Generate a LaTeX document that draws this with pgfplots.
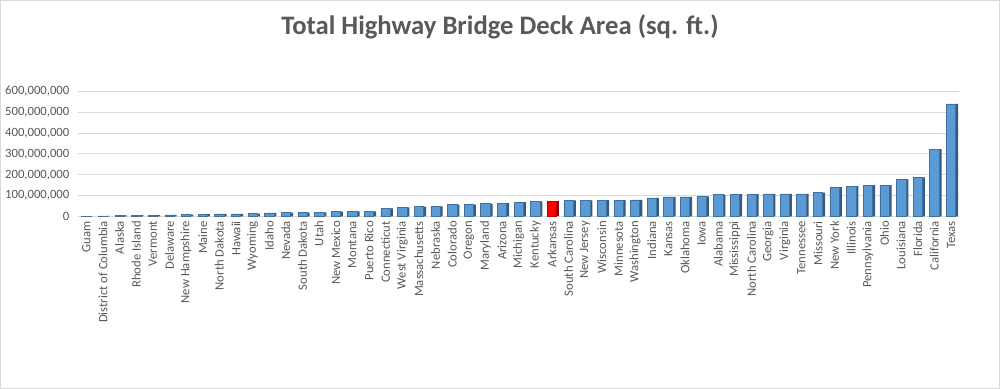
\documentclass[border=0pt]{standalone}
\usepackage{pgfplots}
\pgfplotsset{compat=1.18}
\usepackage{pgfplotstable}
\usepackage{fontspec}
\setmainfont{Carlito}
\definecolor{txtgray}{RGB}{89,89,89}
\definecolor{gridgray}{RGB}{217,217,217}
\definecolor{barblue}{RGB}{91,155,213}
\definecolor{baredge}{RGB}{65,113,156}
\definecolor{barside}{RGB}{52,92,130}
\definecolor{barred}{RGB}{255,0,0}
\definecolor{rededge}{RGB}{192,0,0}
\definecolor{redside}{RGB}{150,0,0}
\pgfplotstableread{
x y
0 1000000
1 3000000
2 5000000
3 6000000
4 7000000
5 8000000
6 9000000
7 11000000
8 12000000
9 12000000
10 14000000
11 17000000
12 18000000
13 19000000
14 20000000
15 23000000
16 24000000
17 25000000
18 39000000
19 44000000
20 47000000
21 49000000
22 57000000
23 57000000
24 61000000
25 64000000
26 69000000
27 72000000
29 77000000
30 77000000
31 78000000
32 78000000
33 80000000
34 89000000
35 94000000
36 94000000
37 96000000
38 105000000
39 107000000
40 107000000
41 108000000
42 108000000
43 108000000
44 115000000
45 141000000
46 146000000
47 151000000
48 151000000
49 179000000
50 188000000
51 323000000
52 540000000
}\bluedata
\pgfplotstableread{
x y
28 74000000
}\reddata
\begin{document}
\begin{tikzpicture}
\fill[white] (0,0) rectangle (750pt,291.75pt);
\draw[gridgray, line width=0.75pt] (0.4pt,0.4pt) rectangle (749.6pt,291.35pt);
\node[txtgray, font=\fontsize{20pt}{22pt}\selectfont\bfseries, anchor=base] at (375pt,266pt) {Total Highway Bridge Deck Area (sq. ft.)};
\begin{axis}[
  at={(58.5pt,129.4pt)}, anchor=south west,
  scale only axis, width=661pt, height=93.75pt,
  ybar, bar width=7pt,
  xmin=-0.5, xmax=52.5, ymin=0, ymax=600000000,
  ytick={0,100000000,200000000,300000000,400000000,500000000,600000000},
  scaled y ticks=false,
  /pgf/number format/fixed,
  /pgf/number format/1000 sep={,},
  /pgf/number format/assume math mode=true,
  yticklabel style={font=\fontsize{9.5pt}{10pt}\selectfont, text=txtgray, xshift=-3pt},
  xtick={0,...,52},
  xticklabels={Guam, District of Columbia, Alaska, Rhode Island, Vermont, Delaware, New Hampshire, Maine, North Dakota, Hawaii, Wyoming, Idaho, Nevada, South Dakota, Utah, New Mexico, Montana, Puerto Rico, Connecticut, West Virginia, Massachusetts, Nebraska, Colorado, Oregon, Maryland, Arizona, Michigan, Kentucky, Arkansas, South Carolina, New Jersey, Wisconsin, Minnesota, Washington, Indiana, Kansas, Oklahoma, Iowa, Alabama, Mississippi, North Carolina, Georgia, Virginia, Tennessee, Missouri, New York, Illinois, Pennsylvania, Ohio, Louisiana, Florida, California, Texas},
  xticklabel style={rotate=90, anchor=east, font=\fontsize{9.5pt}{10pt}\selectfont, text=txtgray},
  major tick length=0pt,
  ymajorgrids, grid style={gridgray, line width=0.75pt},
  axis line style={draw=none},
  axis x line*=bottom,
  x axis line style={gridgray, line width=0.75pt},
  clip=false,
]
\addplot[fill=barside, draw=none, bar width=2.2pt, bar shift=4.3pt] table[x=x,y=y] {\bluedata};
\addplot[fill=redside, draw=none, bar width=2.2pt, bar shift=4.3pt] table[x=x,y=y] {\reddata};
\addplot[fill=barblue, draw=baredge, line width=0.4pt, bar shift=0pt] table[x=x,y=y] {\bluedata};
\addplot[fill=barred, draw=rededge, line width=0.4pt, bar shift=0pt] table[x=x,y=y] {\reddata};
\end{axis}
\pgfresetboundingbox
\path[use as bounding box] (0,0) rectangle (750pt,291.75pt);
\end{tikzpicture}
\end{document}
